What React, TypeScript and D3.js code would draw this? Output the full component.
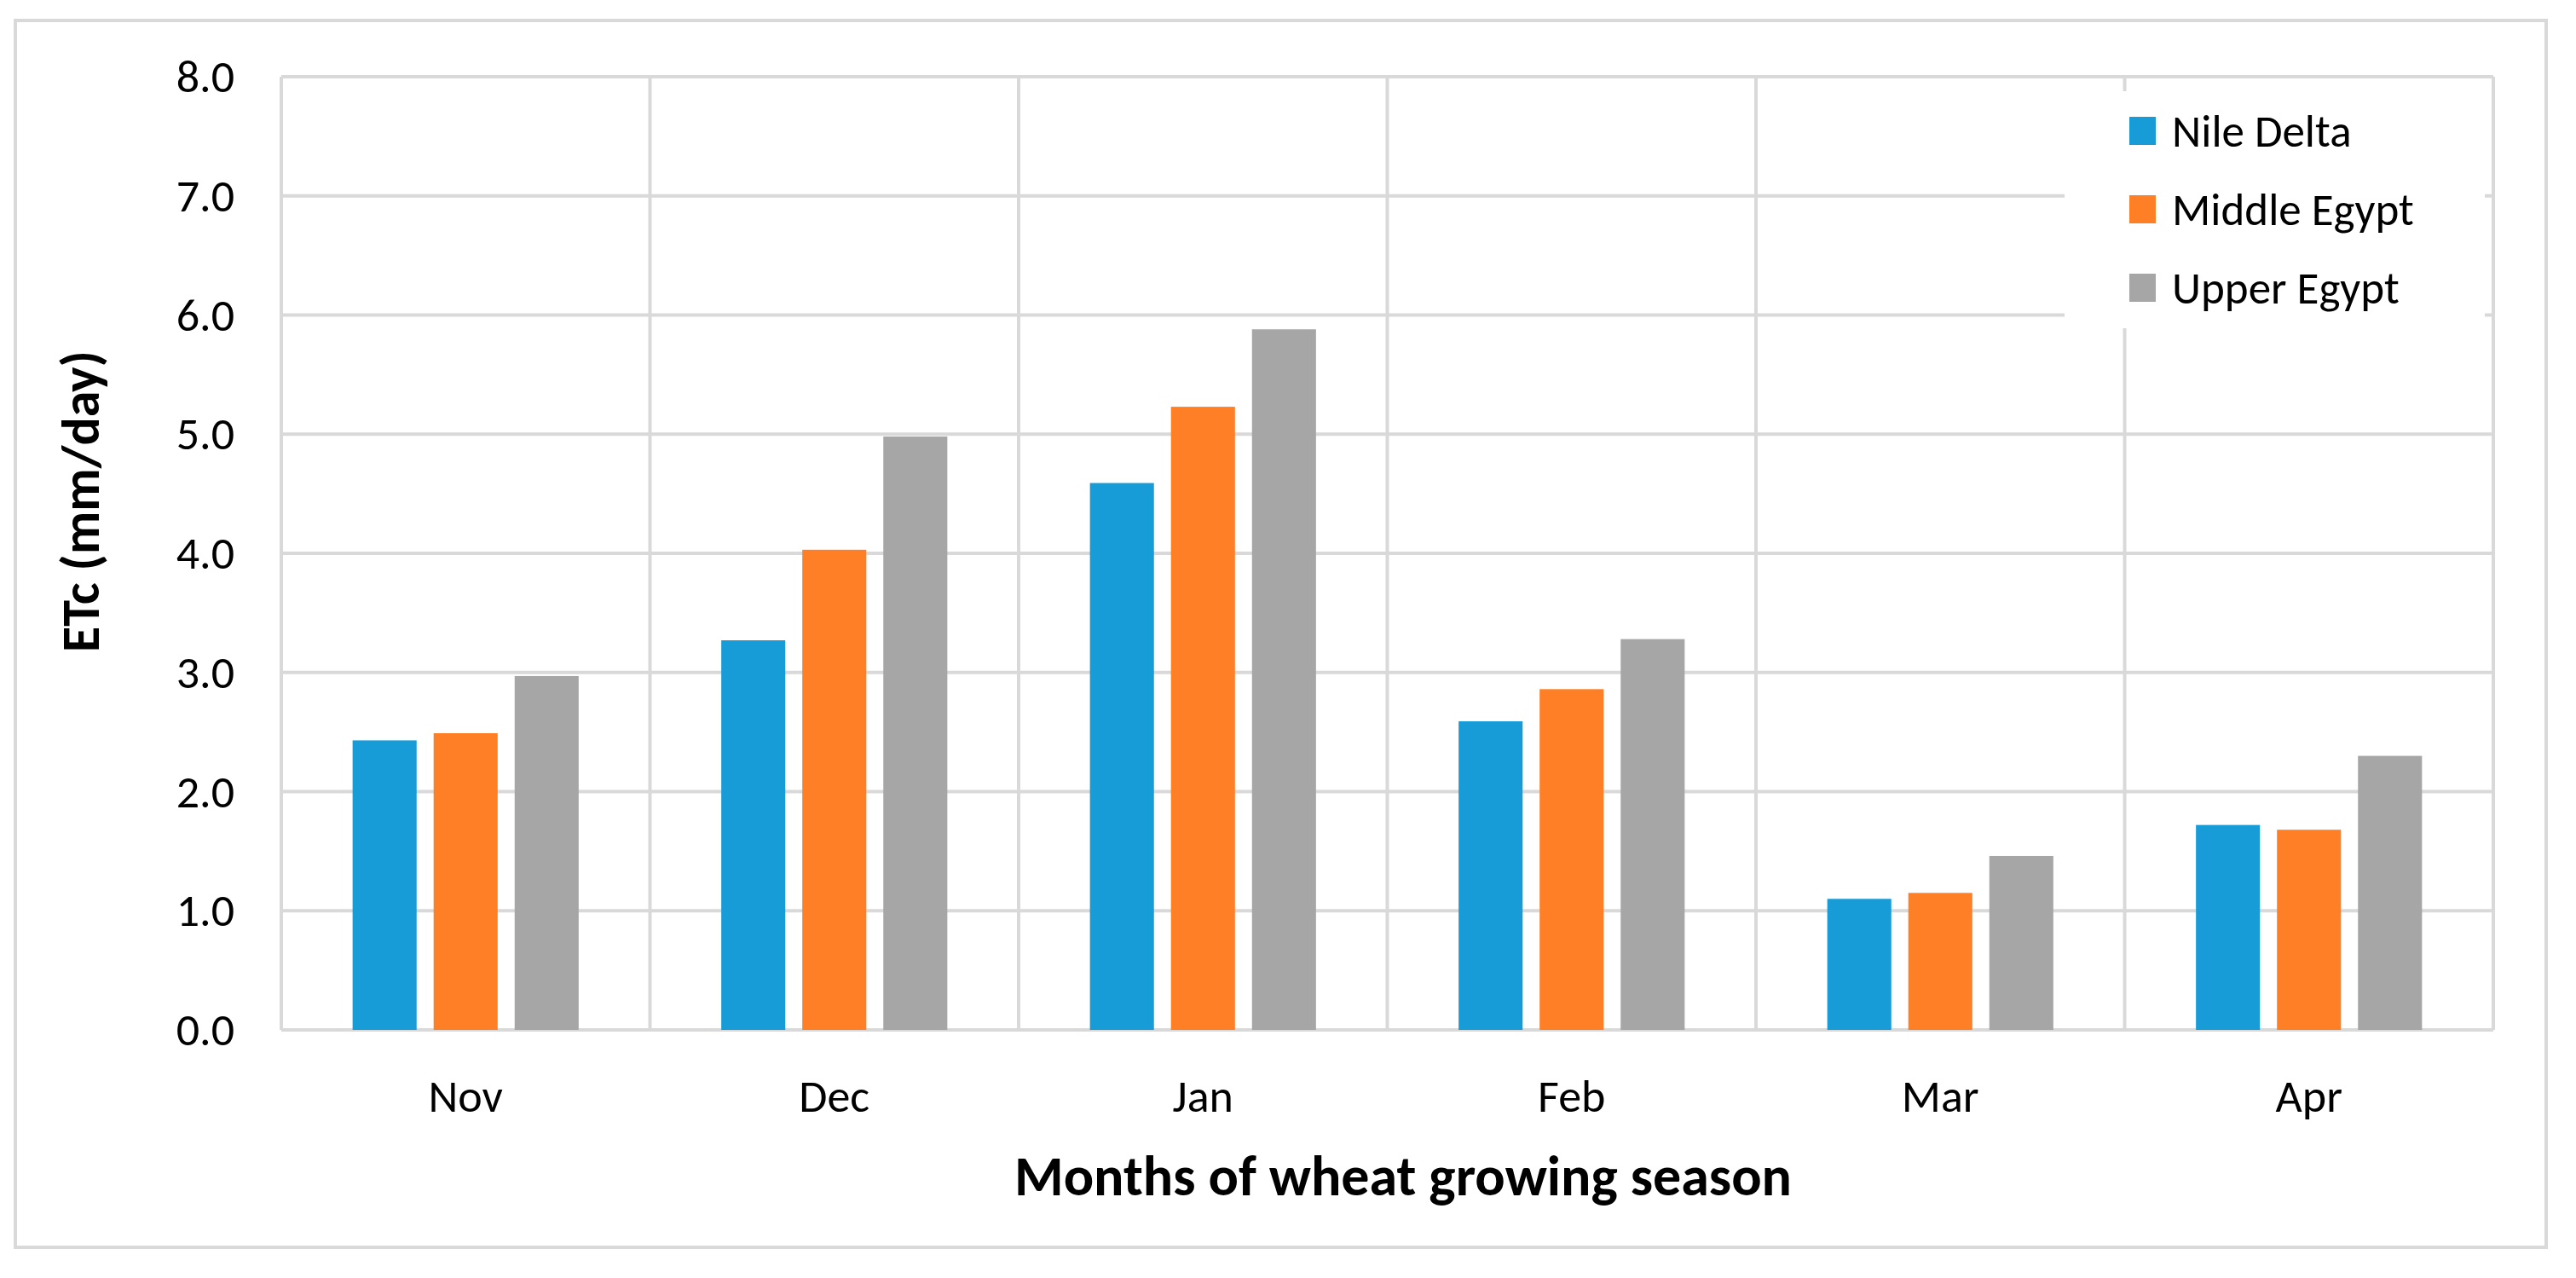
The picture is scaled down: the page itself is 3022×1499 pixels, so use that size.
import * as d3 from 'd3'
import { useEffect, useRef } from 'react'

const months = ['Nov', 'Dec', 'Jan', 'Feb', 'Mar', 'Apr']
const seriesNames = ['Nile Delta', 'Middle Egypt', 'Upper Egypt']
const nileDelta = [2.43, 3.27, 4.59, 2.59, 1.1, 1.72]
const middleEgypt = [2.49, 4.03, 5.23, 2.86, 1.15, 1.68]
const upperEgypt = [2.97, 4.98, 5.88, 3.28, 1.46, 2.3]
const yTicks = [0, 1, 2, 3, 4, 5, 6, 7, 8]
const colors = ['#189cd8', '#fe7f26', '#a6a6a6']

const FONT = 'Carlito, Lato, "Open Sans", sans-serif'

export default function App() {
    const svgRef = useRef<SVGSVGElement>(null)
    const width = 3022
    const height = 1499

    useEffect(() => {
        if (!svgRef.current) return
        const svg = d3.select(svgRef.current)
        svg.selectAll('*').remove()

        const plot = { left: 330, right: 2925, top: 90, bottom: 1208 }
        const grid = '#d9d9d9'

        svg.append('rect')
            .attr('width', width)
            .attr('height', height)
            .attr('fill', '#fff')

        // outer frame
        svg.append('rect')
            .attr('x', 18)
            .attr('y', 24)
            .attr('width', 2969)
            .attr('height', 1439)
            .attr('fill', 'none')
            .attr('stroke', grid)
            .attr('stroke-width', 4)

        const x = d3
            .scaleBand()
            .domain(months)
            .range([plot.left, plot.right])
            .padding(0)

        const xInner = d3
            .scaleBand()
            .domain(seriesNames)
            .range([0, x.bandwidth()])
            .paddingInner(0.21)
            .paddingOuter(0.88)

        const y = d3
            .scaleLinear()
            .domain([0, 8])
            .range([plot.bottom, plot.top])

        // horizontal gridlines
        svg.append('g')
            .selectAll('line')
            .data(yTicks)
            .enter()
            .append('line')
            .attr('x1', plot.left)
            .attr('x2', plot.right)
            .attr('y1', (d) => y(d))
            .attr('y2', (d) => y(d))
            .attr('stroke', grid)
            .attr('stroke-width', 4)

        // vertical category lines
        const edges = months.map((m) => x(m) as number).concat([plot.right])
        svg.append('g')
            .selectAll('line')
            .data(edges)
            .enter()
            .append('line')
            .attr('x1', (d) => d)
            .attr('x2', (d) => d)
            .attr('y1', plot.top)
            .attr('y2', plot.bottom)
            .attr('stroke', grid)
            .attr('stroke-width', 4)

        // bars
        const values = [nileDelta, middleEgypt, upperEgypt]
        values.forEach((vals, si) => {
            svg.append('g')
                .selectAll('rect')
                .data(vals)
                .enter()
                .append('rect')
                .attr('x', (_, i) => (x(months[i]) as number) + (xInner(seriesNames[si]) as number))
                .attr('y', (d) => y(d))
                .attr('width', xInner.bandwidth())
                .attr('height', (d) => y(0) - y(d))
                .attr('fill', colors[si])
        })

        // y tick labels
        svg.append('g')
            .selectAll('text')
            .data(yTicks)
            .enter()
            .append('text')
            .attr('x', 275)
            .attr('y', (d) => y(d) + 18)
            .attr('text-anchor', 'end')
            .style('font-family', FONT)
            .style('font-size', '54px')
            .attr('fill', '#000')
            .text((d) => d3.format('.1f')(d))

        // month labels
        svg.append('g')
            .selectAll('text')
            .data(months)
            .enter()
            .append('text')
            .attr('x', (d) => (x(d) as number) + x.bandwidth() / 2)
            .attr('y', 1304)
            .attr('text-anchor', 'middle')
            .style('font-family', FONT)
            .style('font-size', '54px')
            .attr('fill', '#000')
            .text((d) => d)

        // axis titles
        svg.append('text')
            .attr('x', 1646)
            .attr('y', 1402)
            .attr('text-anchor', 'middle')
            .style('font-family', FONT)
            .style('font-size', '66px')
            .style('font-weight', 'bold')
            .text('Months of wheat growing season')

        svg.append('text')
            .attr('transform', 'translate(116,588) rotate(-90)')
            .attr('text-anchor', 'middle')
            .style('font-family', FONT)
            .style('font-size', '62px')
            .style('font-weight', 'bold')
            .text('ETc (mm/day)')

        // legend
        const legend = svg.append('g')
        legend.append('rect')
            .attr('x', 2422)
            .attr('y', 107)
            .attr('width', 493)
            .attr('height', 278)
            .attr('fill', '#fff')

        seriesNames.forEach((name, i) => {
            const cy = 154 + i * 92
            legend.append('rect')
                .attr('x', 2498)
                .attr('y', cy - 17)
                .attr('width', 31)
                .attr('height', 33)
                .attr('fill', colors[i])
            legend.append('text')
                .attr('x', 2548)
                .attr('y', cy + 18)
                .style('font-family', FONT)
                .style('font-size', '53px')
                .attr('fill', '#000')
                .text(name)
        })
    }, [])

    return (
        <svg
            ref={svgRef}
            width={width}
            height={height}
            style={{ position: 'absolute', left: 0, top: 0, display: 'block' }}
        />
    )
}
